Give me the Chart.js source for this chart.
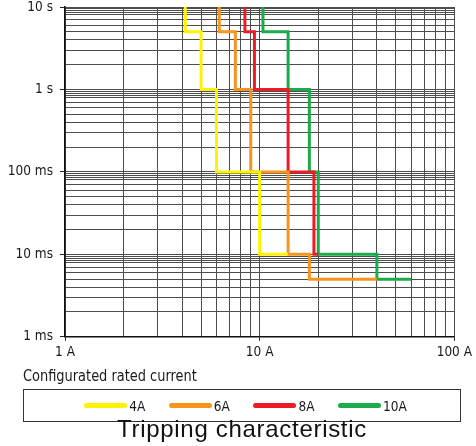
<!DOCTYPE html>
<html>
<head>
<meta charset="utf-8">
<title>Tripping characteristic</title>
<script src="https://cdn.jsdelivr.net/npm/chart.js@4.4.1/dist/chart.umd.min.js"></script>
<style>
    html, body { margin: 0; padding: 0; background: #fff; }
    #page { position: relative; width: 476px; height: 446px; overflow: hidden; }
    #chartBox { position: absolute; left: 0; top: 0; width: 476px; height: 367px; }
    .narrow { font-family: 'Liberation Sans Narrow', 'DejaVu Sans Condensed', 'Liberation Sans', sans-serif; color: #1a1a1a; }
    #xTitle {
        position: absolute; left: 23px; top: 367px; font-size: 16px; line-height: 17px; white-space: nowrap;
        transform: scaleX(0.9); transform-origin: left center;
    }
    #legend {
        position: absolute; left: 23px; top: 389px; width: 429px; height: 31px; padding-left: 7px;
        border: 1px solid #333; display: flex; justify-content: center; align-items: center;
    }
    .legend-item { display: inline-flex; align-items: center; margin: 0 11.8px; font-size: 13.5px; }
    .legend-swatch { width: 43px; height: 5px; border-radius: 3px; margin-right: 2px; }
    #title {
        position: absolute; left: 4px; top: 417px; width: 476px; text-align: center;
        font-family: 'Liberation Sans', Arial, sans-serif; font-size: 24px; line-height: 24px;
        letter-spacing: 0.7px; color: #111; white-space: nowrap;
    }
</style>
</head>
<body>
<div id="page">
    <div id="chartBox"><canvas id="tripChart"></canvas></div>
    <div id="xTitle" class="narrow">Configurated rated current</div>
    <div id="legend" class="narrow"></div>
    <div id="title">Tripping characteristic</div>
</div>
<script>
// Series: current (A) at each step corner and tripping time (s) of that step
const seriesLabels = ['4A', '6A', '8A', '10A'];
const seriesColors = ['#fff200', '#f7941d', '#ed1c24', '#1aab4b'];

const current4A = [4.15, 5, 6, 10, 14];
const time4A = [10, 5, 1, 0.1, 0.01];

const current6A = [6.2, 7.5, 9, 14, 18, 40];
const time6A = [10, 5, 1, 0.1, 0.01, 0.005];

const current8A = [8.4, 9.4, 14, 19, 20];
const time8A = [10, 5, 1, 0.1, 0.01];

const current10A = [10.4, 14, 18, 20, 40, 60];
const time10A = [10, 5, 1, 0.1, 0.01, 0.005];

// Axis ticks (grid lines) and labels
const xDecades = [1, 10];
const xSteps = [1, 2, 3, 4, 5, 6, 7, 8, 9];
const xMajorValues = [1, 10, 100];
const xMajorLabels = ['1 A', '10 A', '100 A'];

const yDecades = [0.001, 0.01, 0.1, 1];
const ySteps = [1, 2, 3, 4, 5, 6, 7, 8, 8.5, 9, 9.5];
const yMajorValues = [0.001, 0.01, 0.1, 1, 10];
const yMajorLabels = ['1 ms', '10 ms', '100 ms', '1 s', '10 s'];

const TICK_FONT = "'Liberation Sans Narrow', 'DejaVu Sans Condensed', 'Liberation Sans', sans-serif";

function tickValues(decades, steps, last) {
    const values = [];
    decades.forEach(d => steps.forEach(s => values.push(d * s)));
    values.push(last);
    return values;
}

function majorIndex(majors, value) {
    return majors.findIndex(m => Math.abs(Math.log10(m) - Math.log10(value)) < 1e-6);
}

function toPoints(xs, ys) {
    return xs.map((x, i) => ({ x: x, y: ys[i] }));
}

const xTicks = tickValues(xDecades, xSteps, 100);
const yTicks = tickValues(yDecades, ySteps, 10);

const seriesPoints = [
    toPoints(current4A, time4A),
    toPoints(current6A, time6A),
    toPoints(current8A, time8A),
    toPoints(current10A, time10A)
];

// vertical drop at the previous current, then horizontal run at the new time
const datasets = seriesLabels.map((label, i) => ({
    label: label,
    data: seriesPoints[i],
    borderColor: seriesColors[i],
    backgroundColor: seriesColors[i],
    borderWidth: 3,
    stepped: 'after',
    pointRadius: 0,
    fill: false
}));

function majorTickColor(majors) {
    return ctx => (ctx.tick && majorIndex(majors, ctx.tick.value) >= 0) ? '#222' : 'rgba(0,0,0,0)';
}

const tripChart = new Chart(document.getElementById('tripChart'), {
    type: 'line',
    data: { datasets: datasets },
    options: {
        responsive: true,
        maintainAspectRatio: false,
        animation: false,
        layout: { padding: { left: 0, right: 19, top: 7, bottom: 2 } },
        plugins: {
            legend: { display: false },
            tooltip: { enabled: false }
        },
        scales: {
            x: {
                type: 'logarithmic',
                min: 1,
                max: 100,
                afterBuildTicks: scale => { scale.ticks = xTicks.map(v => ({ value: v })); },
                ticks: {
                    autoSkip: false,
                    maxRotation: 0,
                    padding: 4,
                    color: '#1a1a1a',
                    font: { family: TICK_FONT, size: 13.5 },
                    callback: value => {
                        const i = majorIndex(xMajorValues, value);
                        return i >= 0 ? xMajorLabels[i] : '';
                    }
                },
                grid: {
                    color: '#4d4d4d',
                    lineWidth: 1,
                    tickLength: 4,
                    tickColor: majorTickColor(xMajorValues)
                },
                border: { color: '#111', width: 1.5 }
            },
            y: {
                type: 'logarithmic',
                min: 0.001,
                max: 10,
                afterBuildTicks: scale => { scale.ticks = yTicks.map(v => ({ value: v })); },
                afterFit: scale => {
                    scale.width = 65;
                    // let the plot reach the top and the x axis; labels may overhang
                    scale.paddingTop = 0;
                    scale.paddingBottom = 0;
                },
                ticks: {
                    autoSkip: false,
                    padding: 7,
                    color: '#1a1a1a',
                    font: { family: TICK_FONT, size: 13.5 },
                    callback: value => {
                        const i = majorIndex(yMajorValues, value);
                        return i >= 0 ? yMajorLabels[i] : '';
                    }
                },
                grid: {
                    color: '#4d4d4d',
                    lineWidth: 1,
                    tickLength: 5,
                    tickColor: majorTickColor(yMajorValues)
                },
                border: { color: '#111', width: 1.5 }
            }
        }
    }
});

// HTML legend built from the chart's datasets
function buildLegend(chart) {
    const box = document.getElementById('legend');
    box.innerHTML = '';
    chart.data.datasets.forEach(ds => {
        const item = document.createElement('span');
        item.className = 'legend-item';
        const swatch = document.createElement('span');
        swatch.className = 'legend-swatch';
        swatch.style.background = ds.borderColor;
        const text = document.createElement('span');
        text.textContent = ds.label;
        item.appendChild(swatch);
        item.appendChild(text);
        box.appendChild(item);
    });
}

buildLegend(tripChart);
</script>
</body>
</html>
